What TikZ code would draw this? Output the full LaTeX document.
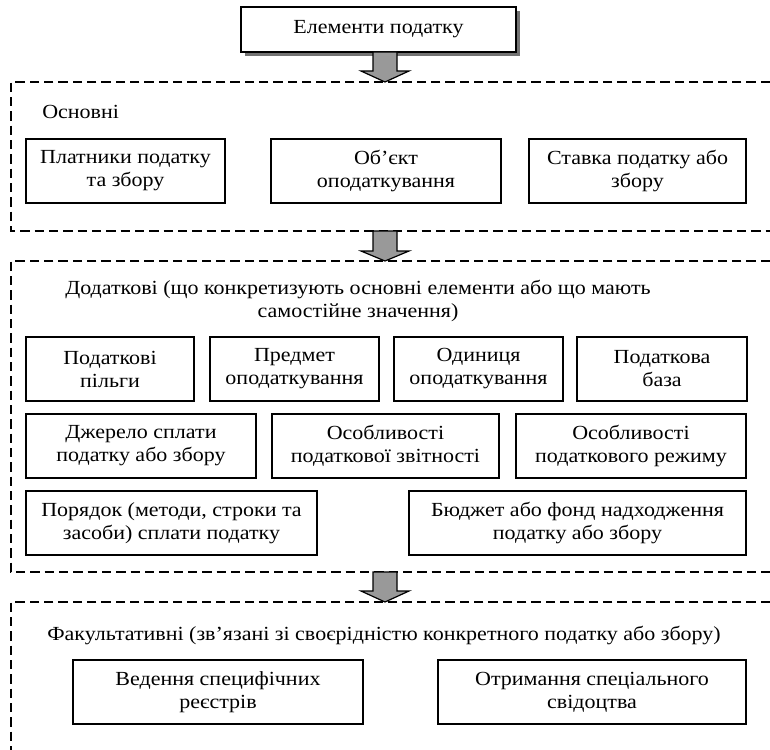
\documentclass[tikz,border=0pt]{standalone}
\usepackage{fontspec}
\setmainfont[FakeStretch=1.10]{Liberation Serif}
\begin{document}
\begin{tikzpicture}[x=0.75pt,y=-0.75pt,
  every node/.style={font=\fontsize{15}{17.25}\selectfont},
  bw/.style={minimum width=#1*0.75pt},
  bh/.style={minimum height=#1*0.75pt},
  bx/.style={draw,line width=1.1pt,align=center,inner sep=0pt,bh=64},
  frame/.style={line width=1pt,dash pattern=on 7pt off 3.75pt},
  barrow/.style={draw,fill=black!40,line width=0.9pt,line join=miter},
  lbl/.style={inner sep=0pt,align=center}]
\useasboundingbox (0,0) rectangle (770,749);
% top box with shadow
\fill[black!55] (245,11) rectangle (520,56);
\node[bx,fill=white,bw=275,bh=45] (top) at (378.5,29.5) {Елементи податку};
% frames
\draw[frame] (770,82) -- (11,82) -- (11,231) -- (770,231);
\draw[frame] (770,261) -- (11,261) -- (11,572) -- (770,572);
\draw[frame] (770,602) -- (11,602) -- (11,752);
% arrows
\path[barrow,shift={(385,52)}] (-12,0) -- (12,0) -- (12,19) -- (24,19) -- (0,30) -- (-24,19) -- (-12,19) -- cycle;
\path[barrow,shift={(385,231)}] (-12,0) -- (12,0) -- (12,20) -- (24,20) -- (0,30) -- (-24,20) -- (-12,20) -- cycle;
\path[barrow,shift={(385,572)}] (-12,0) -- (12,0) -- (12,19) -- (24,19) -- (0,30) -- (-24,19) -- (-12,19) -- cycle;
% Osnovni
\node[lbl,anchor=west] (osn) at (42,112) {Основні};
\node[bx,bw=199] (o1) at (125.5,171) {Платники податку\\та збору};
\node[bx,bw=230] (o2) at (386,171) {Об’єкт\\оподаткування};
\node[bx,bw=217] (o3) at (637.5,171) {Ставка податку або\\збору};
% Dodatkovi
\node[lbl] (dod) at (358,301) {Додаткові (що конкретизують основні елементи або що мають\\самостійне значення)};
\node[bx,bw=168] (d1) at (110,369) {Податкові\\пільги};
\node[bx,bw=169] (d2) at (294.5,369) {Предмет\\оподаткування};
\node[bx,bw=169] (d3) at (478.5,369) {Одиниця\\оподаткування};
\node[bx,bw=170] (d4) at (662,369) {Податкова\\база};
\node[bx,bw=230] (e1) at (141,446) {Джерело сплати\\податку або збору};
\node[bx,bw=227] (e2) at (385.5,446) {Особливості\\податкової звітності};
\node[bx,bw=230] (e3) at (631,446) {Особливості\\податкового режиму};
\node[bx,bw=291] (f1) at (171.5,523) {Порядок (методи, строки та\\засоби) сплати податку};
\node[bx,bw=337] (f2) at (577.5,523) {Бюджет або фонд надходження\\податку або збору};
% Fakultatyvni
\node[lbl] (fak) at (384,635) {Факультативні (зв’язані зі своєрідністю конкретного податку або збору)};
\node[bx,bw=290] (g1) at (218,692) {Ведення специфічних\\реєстрів};
\node[bx,bw=308] (g2) at (592,692) {Отримання спеціального\\свідоцтва};
\end{tikzpicture}
\end{document}
